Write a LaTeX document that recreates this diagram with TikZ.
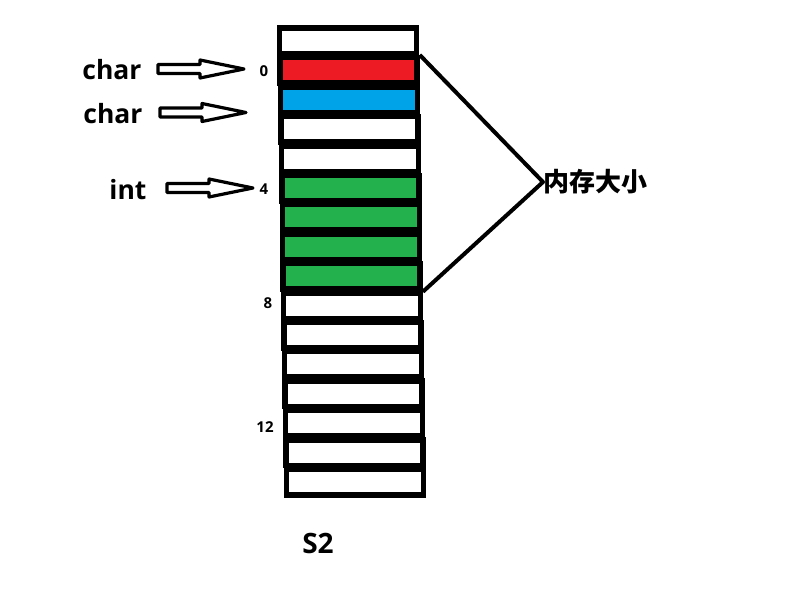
\documentclass[tikz,border=0pt]{standalone}
\usepackage{fontspec}
\setmainfont{Open Sans}
\newfontfamily\cjk{Noto Sans CJK SC}
\definecolor{memred}{HTML}{ED1C24}
\definecolor{memblue}{HTML}{00A2E8}
\definecolor{memgreen}{HTML}{22B14C}
\begin{document}
\begin{tikzpicture}[x=1pt,y=-1pt,
  cell/.style={draw=black, line width=5.5pt, minimum width=137pt, minimum height=25.5pt, inner sep=0pt},
  typelbl/.style={font=\bfseries\fontsize{26.5}{30}\selectfont, inner sep=0pt},
  offlbl/.style={font=\bfseries\fontsize{15}{17}\selectfont, inner sep=0pt},
  conn/.style={line width=4pt, line join=round},
  harrow/.pic={\draw[line width=3.2pt, fill=white, line join=round] (0,-4.5) -- (42,-4.5) -- (42,-9) -- (86,0) -- (42,9) -- (42,4.5) -- (0,4.5) -- cycle;}
]
\useasboundingbox[fill=white] (0,0) rectangle (811,591);
\foreach \i/\c in {0/white,1/memred,2/memblue,3/white,4/white,5/memgreen,6/memgreen,7/memgreen,8/memgreen,9/white,10/white,11/white,12/white,13/white,14/white,15/white}
  \node[cell, fill=\c] (b\i) at ({348+0.46*\i},{41+29.4*\i}) {};
\node[typelbl] (c1) at (112,70) {char};
\node[typelbl] (c2) at (113,114) {char};
\node[typelbl] (i1) at (128,190) {int};
\pic at (158,69) {harrow};
\pic at (160,112.5) {harrow};
\pic at (167,188) {harrow};
\node[offlbl] (o0) at (264,71) {0};
\node[offlbl] (o4) at (264,189) {4};
\node[offlbl] (o8) at (268,303) {8};
\node[offlbl] (o12) at (265,427) {12};
\node[font=\cjk\bfseries\fontsize{26}{30}\selectfont, inner sep=0pt, anchor=west] (sz) at (543,182) {内存大小};
\draw[conn] (b1.north east) -- (sz.west) -- (b8.south east);
\node[font=\bfseries\fontsize{28}{32}\selectfont, inner sep=0pt] (s2) at (318,543) {S2};
\end{tikzpicture}
\end{document}
